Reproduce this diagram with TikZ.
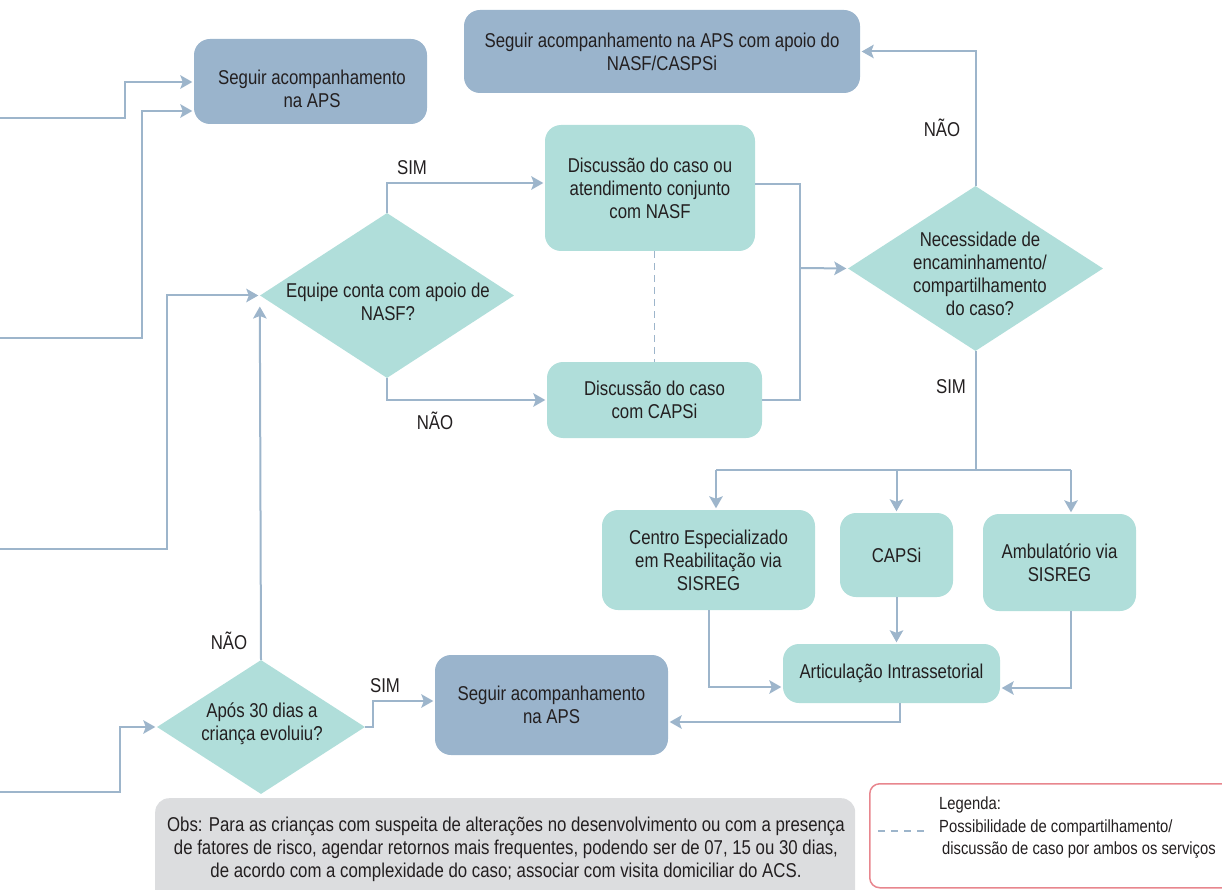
\documentclass[tikz,border=0pt]{standalone}
\usepackage{fontspec}
\setmainfont[FakeStretch=0.84]{Liberation Sans}
\usetikzlibrary{shapes.geometric,arrows.meta}
\definecolor{boxblue}{HTML}{9AB4CC}
\definecolor{boxteal}{HTML}{B0DEDA}
\definecolor{linec}{HTML}{9DB5CB}
\definecolor{obsgray}{HTML}{DCDDDF}
\definecolor{txt}{HTML}{231F20}
\definecolor{legred}{HTML}{E8868E}
\begin{document}
\begin{tikzpicture}[x=1pt,y=-1pt,
  every node/.style={text=txt, font=\fontsize{20}{23}\selectfont},
  bluebox/.style={rectangle, rounded corners=16pt, fill=boxblue, align=center, inner sep=0pt},
  tealbox/.style={rectangle, rounded corners=16pt, fill=boxteal, align=center, inner sep=0pt},
  dia/.style={diamond, fill=boxteal, inner sep=0pt},
  conn/.style={draw=linec, line width=2pt, shorten >=1.5pt, -{Stealth[length=12pt,width=13.5pt,inset=2.5pt]}},
  plainln/.style={draw=linec, line width=2pt},
  dashln/.style={draw=linec, line width=1.5pt, dash pattern=on 7pt off 5pt},
  lbl/.style={inner sep=0pt, align=center},
  legfont/.style={font=\fontsize{17.6}{22}\selectfont},
]
\useasboundingbox (0,0) rectangle (1222,890);
\clip (0,0) rectangle (1222,890);

% boxes
\node[bluebox, minimum width=233pt, minimum height=85pt] (A1) at (310.5,81.5) {};
\node[lbl] (A1t) at (312,88.5) {Seguir acompanhamento\\na APS};
\node[bluebox, minimum width=396pt, minimum height=83pt] (A2) at (662,51.5) {Seguir acompanhamento na APS com apoio do\\NASF/CASPSi};
\node[tealbox, minimum width=210pt, minimum height=126pt] (D1) at (650,188) {Discussão do caso ou\\atendimento conjunto\\com NASF};
\node[tealbox, minimum width=215pt, minimum height=76pt] (D2) at (654.5,400) {Discussão do caso\\com CAPSi};
\node[dia, minimum width=254pt, minimum height=165pt] (E) at (387,295.5) {};
\node[lbl] (Et) at (388,302) {Equipe conta com apoio de\\NASF?};
\node[dia, minimum width=255pt, minimum height=165pt] (N) at (975.5,268.5) {};
\node[lbl] (Nt) at (980,274) {Necessidade de\\encaminhamento/\\compartilhamento\\do caso?};
\node[dia, minimum width=208pt, minimum height=134pt] (P) at (261,727) {};
\node[lbl] (Pt) at (262,723.5) {Após 30 dias a\\criança evoluiu?};
\node[tealbox, minimum width=213pt, minimum height=100pt] (C1) at (708.5,560) {Centro Especializado\\em Reabilitação via\\SISREG};
\node[tealbox, minimum width=113pt, minimum height=84pt] (C2) at (896.5,555) {CAPSi};
\node[tealbox, minimum width=153pt, minimum height=97pt] (C3) at (1059.5,562.5) {Ambulatório via\\SISREG};
\node[tealbox, minimum width=217pt, minimum height=59pt] (Art) at (891.5,673.5) {Articulação Intrassetorial};
\node[bluebox, minimum width=233pt, minimum height=100pt] (B) at (551.5,705) {Seguir acompanhamento\\na APS};

% observation box
\node[fill=obsgray, rounded corners=14pt, minimum width=700pt, minimum height=112pt, anchor=north west, inner sep=0pt] (obs) at (155,798) {};
\node[lbl] (obst) at (506,849) {Obs: Para as crianças com suspeita de alterações no desenvolvimento ou com a presença\\de fatores de risco, agendar retornos mais frequentes, podendo ser de 07, 15 ou 30 dias,\\de acordo com a complexidade do caso; associar com visita domiciliar do ACS.};

% legend
\node[draw=legred, line width=1.5pt, rounded corners=10pt, minimum width=376pt, minimum height=104pt, anchor=north west, inner sep=0pt] (leg) at (869,783) {};
\node[lbl, legfont, anchor=west] (legt) at (939,805) {Legenda:};
\node[lbl, legfont, anchor=west, align=left] (legd) at (939,839) {Possibilidade de compartilhamento/\\\,discussão de caso por ambos os serviços};
\draw[dashln, dash pattern=on 7pt off 6pt] (878,831) -- (924,831);

% labels
\node[lbl] (sim1) at (412,168) {SIM};
\node[lbl] (nao1) at (435,421) {NÃO};
\node[lbl] (nao2) at (942,128) {NÃO};
\node[lbl] (sim2) at (951,387) {SIM};
\node[lbl] (nao3) at (229,641) {NÃO};
\node[lbl] (sim3) at (385,686) {SIM};

% free ends at left border
\coordinate (in1) at (-2,118);
\coordinate (in2) at (-2,338);
\coordinate (in3) at (-2,549);
\coordinate (in4) at (-2,792);

% connectors
\draw[conn] (in1) -- (125,118) -- (125,82) -- (A1.west |- 0,82);
\draw[conn] (in2) -- (142,338) -- (142,111) -- (A1.west |- 0,111);
\draw[conn] (in3) -- (167,549) |- (E.west);
\draw[conn] (in4) -- (120,792) |- (P.west);

\draw[conn] (E.north) -- (E.north |- 0,183) -- (D1.west |- 0,183);
\draw[conn] (E.south) |- (D2.west);
\draw[plainln] (D1.east |- 0,184) -- (800,184) -- (800,400) -- (D2.east |- 0,400);
\draw[conn] (800,268) -- (N.west);
\draw[dashln] (D2.north |- D1.south) -- (D2.north);

\draw[conn] (N.north) |- (A2.east);
\draw[plainln] (N.south) -- (N.south |- 0,470);
\draw[plainln] (716,470) -- (1071,470);
\draw[conn] (716,470) -- (C1.north -| 716,0);
\draw[conn] (C2.north |- 0,470) -- (C2.north);
\draw[conn] (1071,470) -- (C3.north -| 1071,0);

\draw[conn] (C1.south -| 709,0) -- (709,687) -- (Art.west |- 0,687);
\draw[conn] (C2.south) -- (Art.north -| C2.south);
\draw[conn] (C3.south -| 1071,0) -- (1071,688) -- (Art.east |- 0,688);
\draw[conn] (Art.south -| 900,0) -- (900,722) -- (B.east |- 0,722);

\draw[conn] (P.east) -- (373,727) -- (373,701) -- (B.west |- 0,701);
\draw[conn] (P.north) -- (E.west |- 0,305);
\end{tikzpicture}
\end{document}
